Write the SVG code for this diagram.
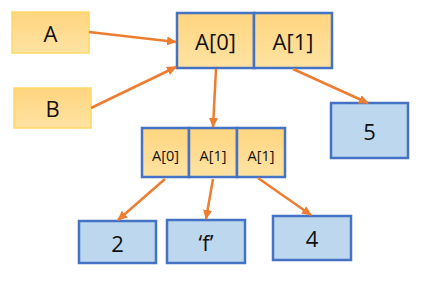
<svg xmlns="http://www.w3.org/2000/svg" width="428" height="288" viewBox="0 0 428 288">
<defs>
<linearGradient id="gold" x1="0" y1="0" x2="0" y2="1">
<stop offset="0" stop-color="#FFD57F"/>
<stop offset="1" stop-color="#FFE3A3"/>
</linearGradient>
<marker id="ah" markerWidth="10" markerHeight="9" refX="9" refY="4.5" orient="auto" markerUnits="userSpaceOnUse">
<path d="M0,0 L10,4.5 L0,9 Z" fill="#ED7D31"/>
</marker>
<style>
.lbl{fill:url(#gold);stroke:#FFD966;stroke-width:1.5}
.arr{fill:url(#gold);stroke:#4472C4;stroke-width:2.5}
.val{fill:#BDD7EE;stroke:#4472C4;stroke-width:2.5}
.t{font-family:"Open Sans","Noto Sans",sans-serif;fill:#111;text-anchor:middle;dominant-baseline:central}
.big{font-size:22px}
.sm{font-size:14.5px}
.c{stroke:#ED7D31;stroke-width:2.5;fill:none;marker-end:url(#ah)}
</style>
</defs>
<rect width="428" height="288" fill="#fff"/>
<g id="nodeA"><rect class="lbl" x="12" y="12" width="77" height="41"/><text class="t big" x="50.5" y="32.5">A</text></g>
<g id="nodeB"><rect class="lbl" x="14" y="88" width="77" height="40"/><text class="t big" x="52.5" y="108">B</text></g>
<g id="top">
<rect class="arr" x="177" y="13" width="77" height="55"/>
<rect class="arr" x="254" y="13" width="78" height="55"/>
<text class="t big" x="215.5" y="41">A[0]</text>
<text class="t big" x="293" y="41">A[1]</text>
</g>
<g id="child">
<rect class="arr" x="142" y="128" width="47" height="49"/>
<rect class="arr" x="189" y="128" width="48" height="49"/>
<rect class="arr" x="237" y="128" width="48" height="49"/>
<text class="t sm" x="165.5" y="155">A[0]</text>
<text class="t sm" x="213" y="155">A[1]</text>
<text class="t sm" x="261" y="155">A[1]</text>
</g>
<g id="v5"><rect class="val" x="331" y="103" width="77" height="55"/><text class="t big" x="369.5" y="131">5</text></g>
<g id="v2"><rect class="val" x="79" y="221" width="77" height="42"/><text class="t big" x="117.5" y="242.5">2</text></g>
<g id="vf"><rect class="val" x="167" y="220" width="78" height="43"/><text class="t big" x="206" y="241.5">‘f’</text></g>
<g id="v4"><rect class="val" x="273" y="216" width="78" height="44"/><text class="t big" x="312" y="238">4</text></g>
<g id="connectors">
<line class="c" x1="89" y1="32" x2="176" y2="42"/>
<line class="c" x1="91" y1="108" x2="176" y2="67"/>
<line class="c" x1="216" y1="69" x2="213" y2="127"/>
<line class="c" x1="293" y1="69" x2="368" y2="103"/>
<line class="c" x1="165" y1="179" x2="118" y2="220"/>
<line class="c" x1="213" y1="179" x2="206" y2="219"/>
<line class="c" x1="258" y1="178" x2="311" y2="215"/>
</g>
</svg>
